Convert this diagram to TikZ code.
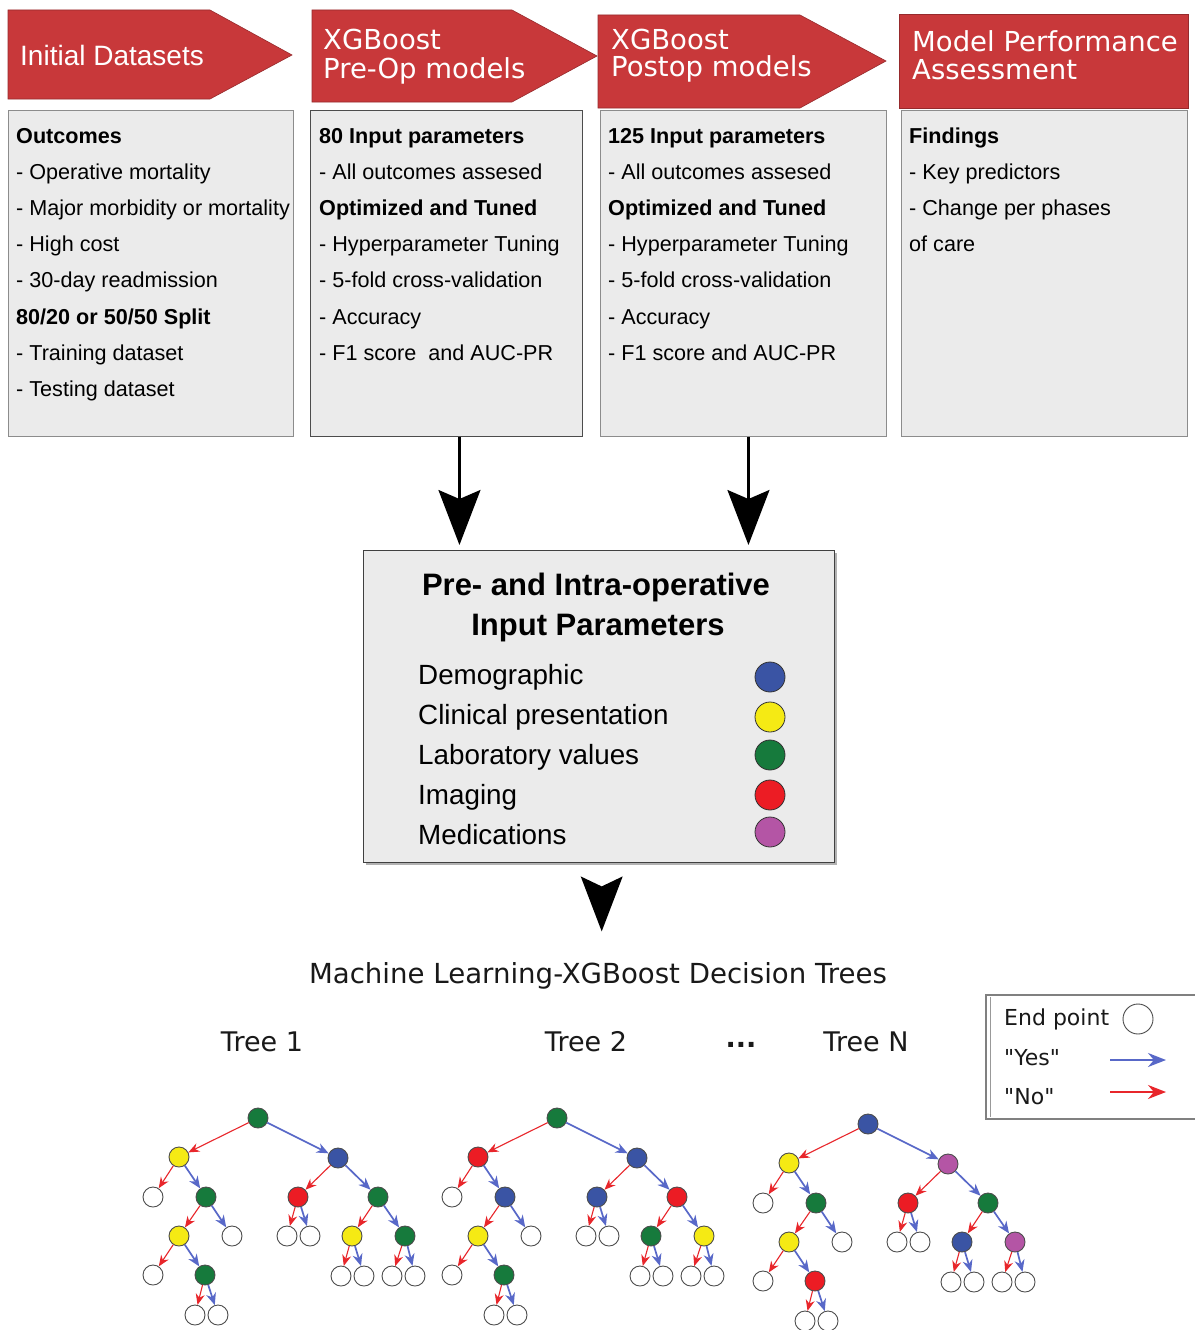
\documentclass[tikz,border=0pt]{standalone}
\usepackage{fontspec}
\setmainfont{Liberation Sans}
\newfontfamily\dvs{DejaVu Sans}
\usetikzlibrary{arrows.meta,shapes.geometric}
\definecolor{hdrred}{RGB}{200,56,58}
\definecolor{boxgray}{RGB}{235,235,235}
\definecolor{cblue}{RGB}{58,84,164}
\definecolor{cyellow}{RGB}{245,234,20}
\definecolor{cgreen}{RGB}{22,122,60}
\definecolor{cred}{RGB}{236,28,36}
\definecolor{cpurple}{RGB}{180,85,165}
\definecolor{yesblue}{RGB}{88,104,200}
\definecolor{nored}{RGB}{232,38,43}

\newcommand\mytree[1]{%
  \node[tn,kr] (#1r) at (258,1118) {};
  \node[tn,ka] (#1a) at (179,1157) {};
  \node[tn,kb] (#1b) at (338,1158) {};
  \node[tn] (#1aa) at (153,1197) {};
  \node[tn,kab] (#1ab) at (206,1197) {};
  \node[tn,kba] (#1ba) at (298,1197) {};
  \node[tn,kbb] (#1bb) at (378,1197) {};
  \node[tn,kaba] (#1aba) at (179,1236) {};
  \node[tn] (#1abb) at (232,1236) {};
  \node[tn] (#1baa) at (287,1236) {};
  \node[tn] (#1bab) at (310,1236) {};
  \node[tn,kbba] (#1bba) at (352,1236) {};
  \node[tn,kbbb] (#1bbb) at (405,1236) {};
  \node[tn] (#1abaa) at (153,1275) {};
  \node[tn,kabab] (#1abab) at (205,1275) {};
  \node[tn] (#1bbaa) at (341,1276) {};
  \node[tn] (#1bbab) at (364,1276) {};
  \node[tn] (#1bbba) at (392,1276) {};
  \node[tn] (#1bbbb) at (415,1276) {};
  \node[tn] (#1ababa) at (195,1315) {};
  \node[tn] (#1ababb) at (218,1315) {};
  \draw[noarr] (#1r) -- (#1a);
  \draw[yesarr] (#1r) -- (#1b);
  \foreach \p in {a,b,ab,ba,bb,aba,bba,bbb,abab} {%
    \draw[noarr] (#1\p) -- (#1\p a);
    \draw[yesarr] (#1\p) -- (#1\p b);
  }%
}

\begin{document}
\begin{tikzpicture}[x=1pt,y=-1pt,
  hdr/.style={fill=hdrred, draw=hdrred!75!black, line width=0.6pt},
  hdrtxt/.style={text=white, anchor=base west, inner sep=0pt, font=\dvs\fontsize{27.5}{28}\selectfont},
  infobox/.style={fill=boxgray, draw=black!45, line width=0.9pt, anchor=north west, inner sep=0pt},
  ln/.style={anchor=base west, inner sep=0pt, font=\fontsize{21.6}{26}\selectfont},
  item/.style={anchor=base west, inner sep=0pt, font=\fontsize{27.8}{30}\selectfont},
  dot/.style={circle, draw=black!80, line width=0.8pt, minimum size=30pt, inner sep=0pt},
  bigarr/.style={line width=2.2pt, -{Stealth[length=55pt,width=42pt,inset=9pt]}, shorten >=5pt},
  tn/.style={circle, draw=black!70, line width=0.9pt, fill=white, minimum size=20pt, inner sep=0pt},
  noarr/.style={draw=nored, line width=1.1pt, -{Stealth[length=11pt,width=9pt]}},
  yesarr/.style={draw=yesblue, line width=1.7pt, -{Stealth[length=12pt,width=10pt]}},
  tlab/.style={inner sep=0pt, font=\dvs\fontsize{27}{28}\selectfont, text=black!90},
  legtxt/.style={anchor=west, inner sep=0pt, font=\dvs\fontsize{22}{24}\selectfont, text=black!90},
  T1/.style={kr/.style={fill=cgreen}, ka/.style={fill=cyellow}, kb/.style={fill=cblue},
    kab/.style={fill=cgreen}, kba/.style={fill=cred}, kbb/.style={fill=cgreen},
    kaba/.style={fill=cyellow}, kbba/.style={fill=cyellow}, kbbb/.style={fill=cgreen},
    kabab/.style={fill=cgreen}},
  T2/.style={kr/.style={fill=cgreen}, ka/.style={fill=cred}, kb/.style={fill=cblue},
    kab/.style={fill=cblue}, kba/.style={fill=cblue}, kbb/.style={fill=cred},
    kaba/.style={fill=cyellow}, kbba/.style={fill=cgreen}, kbbb/.style={fill=cyellow},
    kabab/.style={fill=cgreen}},
  T3/.style={kr/.style={fill=cblue}, ka/.style={fill=cyellow}, kb/.style={fill=cpurple},
    kab/.style={fill=cgreen}, kba/.style={fill=cred}, kbb/.style={fill=cgreen},
    kaba/.style={fill=cyellow}, kbba/.style={fill=cblue}, kbbb/.style={fill=cpurple},
    kabab/.style={fill=cred}}
]
\useasboundingbox (0,0) rectangle (1194,1330);
\fill[white] (0,0) rectangle (1194,1330);

% ---- header arrows
\path[hdr] (8,10) -- (210,10) -- (292,55) -- (210,99) -- (8,99) -- cycle;
\path[hdr] (312,10) -- (512,10) -- (597,56) -- (512,102) -- (312,102) -- cycle;
\path[hdr] (598,15) -- (800,15) -- (886,61) -- (800,108) -- (598,108) -- cycle;
\path[hdr] (899,14) rectangle (1188,108);
\node[hdrtxt, font=\fontsize{28}{30}\selectfont] (h1) at (20,66) {Initial Datasets};
\node[hdrtxt] (h2a) at (323,50) {XGBoost};
\node[hdrtxt] (h2b) at (323,78) {Pre-Op models};
\node[hdrtxt] (h3a) at (611,49) {XGBoost};
\node[hdrtxt] (h3b) at (611,77) {Postop models};
\node[hdrtxt] (h4a) at (912,52) {Model Performance};
\node[hdrtxt] (h4b) at (912,80) {Assessment};

% ---- info boxes
\node[infobox, minimum width=285pt, minimum height=326pt] (bx1) at (8,110) {};
\node[infobox, minimum width=272pt, minimum height=326pt, draw=black!70] (bx2) at (310,110) {};
\node[infobox, minimum width=286pt, minimum height=326pt] (bx3) at (600,110) {};
\node[infobox, minimum width=286pt, minimum height=326pt] (bx4) at (901,110) {};

\foreach \t [count=\i from 0] in {{\bfseries Outcomes}, {- Operative mortality}, {- Major morbidity or mortality}, {- High cost}, {- 30-day readmission}, {\bfseries 80/20 or 50/50 Split}, {- Training dataset}, {- Testing dataset}}
  \node[ln] (la\i) at (16,{143+36.2*\i}) {\t};
\foreach \t [count=\i from 0] in {{\bfseries 80 Input parameters}, {- All outcomes assesed}, {\bfseries Optimized and Tuned}, {- Hyperparameter Tuning}, {- 5-fold cross-validation}, {- Accuracy}, {- F1 score\ \ and AUC-PR}}
  \node[ln] (lb\i) at (319,{143+36.2*\i}) {\t};
\foreach \t [count=\i from 0] in {{\bfseries 125 Input parameters}, {- All outcomes assesed}, {\bfseries Optimized and Tuned}, {- Hyperparameter Tuning}, {- 5-fold cross-validation}, {- Accuracy}, {- F1 score and AUC-PR}}
  \node[ln] (lc\i) at (608,{143+36.2*\i}) {\t};
\foreach \t [count=\i from 0] in {{\bfseries Findings}, {- Key predictors}, {- Change per phases}, {of care}}
  \node[ln] (ld\i) at (909,{143+36.2*\i}) {\t};

% ---- central box
\fill[black!30] (366,553) rectangle (837,865);
\node[infobox, draw=black!75, line width=1.4pt, minimum width=471pt, minimum height=312pt] (central) at (363,550) {};
\node[anchor=base, inner sep=0pt, font=\bfseries\fontsize{31}{33}\selectfont] (ct1) at (596,595) {Pre- and Intra-operative};
\node[anchor=base, inner sep=0pt, font=\bfseries\fontsize{31}{33}\selectfont] (ct2) at (598,635) {Input Parameters};
\node[item] (it1) at (418,684) {Demographic};
\node[item] (it2) at (418,724) {Clinical presentation};
\node[item] (it3) at (418,764) {Laboratory values};
\node[item] (it4) at (418,804) {Imaging};
\node[item] (it5) at (418,844) {Medications};
\node[dot, fill=cblue] (cc1) at (770,677) {};
\node[dot, fill=cyellow] (cc2) at (770,717) {};
\node[dot, fill=cgreen] (cc3) at (770,755) {};
\node[dot, fill=cred] (cc4) at (770,795) {};
\node[dot, fill=cpurple] (cc5) at (770,832) {};

% ---- big arrows
\draw[bigarr] ([xshift=13pt]bx2.south) -- ([xshift=13pt]bx2.south |- central.north);
\draw[bigarr] ([xshift=5pt]bx3.south) -- ([xshift=5pt]bx3.south |- central.north);
\fill[black] ([xshift=2.5pt,yshift=-13pt]central.south) ++(-21,0) -- ++(21,55) -- ++(21,-55) -- ++(-21,10) -- cycle;

% ---- trees title and labels
\node[tlab, font=\dvs\fontsize{27.6}{29}\selectfont] (mlt) at (598,976) {Machine Learning-XGBoost Decision Trees};
\node[tlab] (tl1) at (262,1042) {Tree 1};
\node[tlab] (tl2) at (586,1042) {Tree 2};
\node[tlab, font=\dvs\bfseries\fontsize{27}{28}\selectfont] (tldots) at (741,1045) {...};
\node[tlab] (tl3) at (866,1042) {Tree N};

% ---- legend
\draw[black!50, line width=2pt] (1196,995) -- (986,995) -- (986,1119) -- (1196,1119);
\draw[black!40, line width=0.8pt] (990,997) -- (990,1117);
\node[legtxt] (le1) at (1004,1019) {End point};
\node[legtxt] (le2) at (1004,1058) {"Yes"};
\node[legtxt] (le3) at (1004,1097) {"No"};
\node[tn, minimum size=30pt] (lend) at (1138,1019) {};
\coordinate (ly1) at (1110,1060);
\coordinate (ly2) at (1166,1060);
\coordinate (ln1) at (1110,1092);
\coordinate (ln2) at (1166,1092);
\draw[yesarr, line width=2pt, -{Stealth[length=18pt,width=14pt]}] (ly1) -- (ly2);
\draw[noarr, line width=1.6pt, -{Stealth[length=18pt,width=14pt]}] (ln1) -- (ln2);

% ---- trees
\begin{scope}[T1]
  \mytree{ta}
\end{scope}
\begin{scope}[T2, shift={(299,0)}]
  \mytree{tb}
\end{scope}
\begin{scope}[T3, shift={(610,6)}]
  \mytree{tc}
\end{scope}
\end{tikzpicture}
\end{document}
